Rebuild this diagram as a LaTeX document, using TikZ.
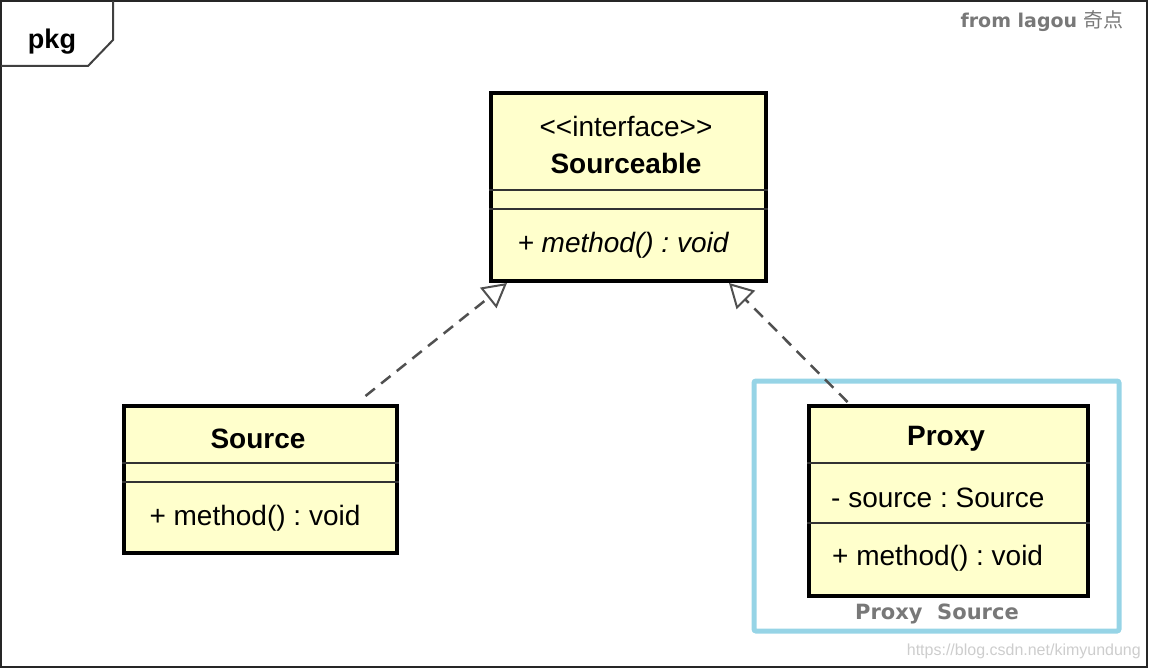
\documentclass[tikz,border=0pt]{standalone}
\usepackage{fontspec}
\setmainfont{Liberation Sans}
\newfontfamily\dvb{DejaVu Sans}
\newfontfamily\cjk{Noto Sans CJK SC}
\usetikzlibrary{arrows.meta}
\frenchspacing
\definecolor{umlfill}{RGB}{255,255,204}
\definecolor{hiblue}{RGB}{150,212,230}
\definecolor{capgray}{RGB}{120,120,120}
\definecolor{wmgray}{RGB}{205,205,205}
\definecolor{dashgray}{RGB}{80,80,80}
\tikzset{
  umlbox/.style={draw=black, fill=umlfill, line width=4pt, inner sep=0pt, anchor=north west},
  divider/.style={line width=1.8pt, draw=black!80},
  umltext/.style={inner sep=0pt, font=\fontsize{28}{32}\selectfont},
  umlbold/.style={umltext, font=\fontsize{28}{32}\selectfont\bfseries},
  realize/.style={draw=dashgray, line width=2.5pt, dash pattern=on 12pt off 8pt,
    -{Triangle[open, length=24pt, width=26pt, line width=2pt]}},
}
\begin{document}
\begin{tikzpicture}[x=1pt, y=-1pt]
\useasboundingbox (0,0) rectangle (1149,669);
% outer frame and tab
\draw[line width=2pt, draw=black!85] (1,1) rectangle (1147,667);
\draw[line width=2pt, draw=black!75] (1,66) -- (88,66) -- (113,40) -- (113,1);
\node[inner sep=0pt, font=\fontsize{27}{30}\selectfont\bfseries] (pkg) at (52,42) {pkg};
\node[inner sep=0pt, anchor=east, text=capgray] (from) at (1124,21) {\dvb\fontsize{19}{22}\selectfont\bfseries from lagou \cjk\fontsize{20}{22}\selectfont\mdseries 奇点};

% interface
\node[umlbox, minimum width=275pt, minimum height=188pt] (iface) at (489,91) {};
\draw[divider] ([yshift=-99pt]iface.north west) -- ([yshift=-99pt]iface.north east);
\draw[divider] ([yshift=-118pt]iface.north west) -- ([yshift=-118pt]iface.north east);
\node[umltext] (ifst) at (626,126) {<\kern0pt<interface>\kern0pt>};
\node[umlbold] (ifname) at (626,163) {Sourceable};
\node[umltext, font=\fontsize{28}{32}\selectfont\itshape] (ifop) at (623,245) {+ method() : void};

% Source
\node[umlbox, minimum width=273pt, minimum height=147pt] (src) at (122,404) {};
\draw[divider] ([yshift=-59pt]src.north west) -- ([yshift=-59pt]src.north east);
\draw[divider] ([yshift=-78pt]src.north west) -- ([yshift=-78pt]src.north east);
\node[umlbold] (srcname) at (258,439) {Source};
\node[umltext] (srcop) at (255,518) {+ method() : void};

% Proxy
\node[umlbox, minimum width=279pt, minimum height=190pt] (proxy) at (807,404) {};
\draw[divider] ([yshift=-59pt]proxy.north west) -- ([yshift=-59pt]proxy.north east);
\draw[divider] ([yshift=-119pt]proxy.north west) -- ([yshift=-119pt]proxy.north east);
\node[umlbold] (pxname) at (946,439) {Proxy};
\node[umltext, anchor=west] (pxattr) at (831,498) {- source : Source};
\node[umltext, anchor=west] (pxop) at (832,558) {+ method() : void};

% highlight
\draw[draw=hiblue, line width=5pt, rounded corners=2pt] (754,381) rectangle (1119,631);
\node[inner sep=0pt, text=capgray] (cap) at (937,614) {\dvb\fontsize{21}{24}\selectfont\bfseries Proxy\ \ Source};

% watermark
\node[inner sep=0pt, anchor=east, text=wmgray, font=\fontsize{16}{18}\selectfont] (wm) at (1141,651) {https://blog.csdn.net/kimyundung};

% realizations
\coordinate (sA) at ([xshift=105pt, yshift=8pt]src.north);
\coordinate (tA) at ([xshift=18pt, yshift=0pt]iface.south west);
\coordinate (sB) at ([xshift=-101pt, yshift=2pt]proxy.north);
\coordinate (tB) at ([xshift=-39pt, yshift=0pt]iface.south east);
\draw[realize] (sA) -- (tA);
\draw[realize] (sB) -- (tB);
\end{tikzpicture}
\end{document}
